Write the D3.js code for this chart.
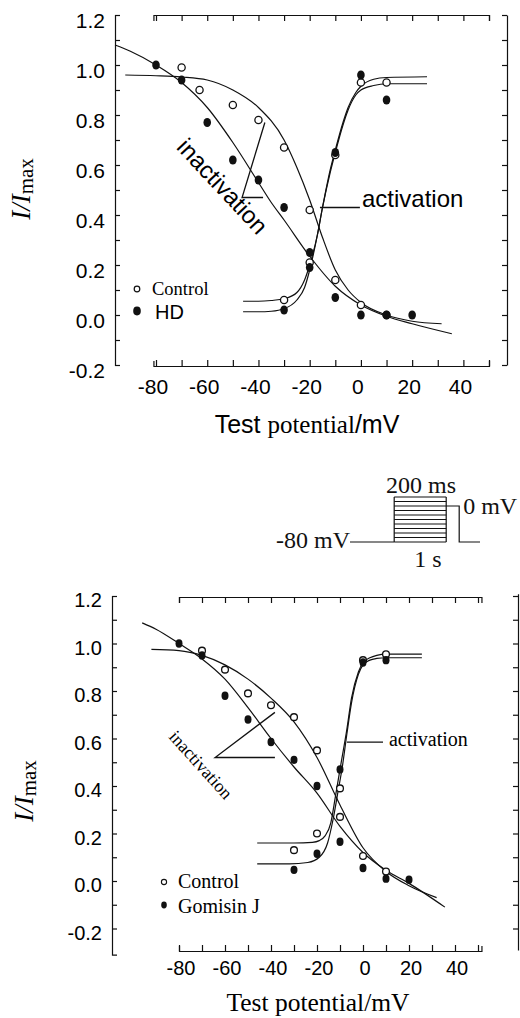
<!DOCTYPE html>
<html><head><meta charset="utf-8">
<script src="https://cdn.jsdelivr.net/npm/d3@7"></script>
<style>body{margin:0;background:#fff}svg{display:block}</style>
</head><body>
<svg id="c" width="520" height="1018"></svg>
<script>
// ---------------- DATA ----------------
const xTickValues = [-80,-70,-60,-50,-40,-30,-20,-10,0,10,20,30,40,50];
const xTickLabels = [-80,-60,-40,-20,0,20,40];
const yTickValues = [-0.2,-0.1,0,0.1,0.2,0.3,0.4,0.5,0.6,0.7,0.8,0.9,1.0,1.1,1.2];
const yTickLabels = [-0.2,0,0.2,0.4,0.6,0.8,1.0,1.2];

// top panel: Control vs HD
const topCtrlInactV = [-70,-63,-50,-40,-30,-20,-10,0,10];
const topCtrlInact  = [0.99,0.90,0.84,0.78,0.67,0.42,0.14,0.04,0.0];
const hdInactV = [-80,-70,-60,-50,-40,-30,-20,-10,0,10,20];
const hdInact  = [1.0,0.94,0.77,0.62,0.54,0.43,0.25,0.07,0.0,0.0,0.0];
const topActV = [-30,-20,-10,0,10];
const topCtrlAct = [0.06,0.21,0.64,0.93,0.93];
const hdAct      = [0.02,0.19,0.65,0.96,0.86];

// fitted curves (top)
const topCtrlInactFitV = [-92,-80,-70,-60,-50,-40,-30,-25,-20,-15,-10,-5,0,10,20,31.5];
const topCtrlInactFit  = [0.96,0.957,0.952,0.94,0.90,0.83,0.70,0.59,0.46,0.31,0.18,0.10,0.05,0.0,-0.025,-0.035];
const hdInactFitV = [-96,-90,-80,-70,-60,-50,-40,-35,-30,-20,-10,0,10,20,35.5];
const hdInactFit  = [1.08,1.055,1.0,0.93,0.83,0.69,0.53,0.45,0.38,0.235,0.115,0.04,-0.005,-0.035,-0.075];
const topActFitV = [-46,-40,-35,-30,-25,-22,-20,-17,-15,-12,-10,-7,-5,-2,0,5,10,25.8];
const topCtrlActFit = [0.055,0.055,0.058,0.065,0.09,0.14,0.2,0.32,0.43,0.57,0.65,0.76,0.82,0.88,0.9,0.918,0.925,0.925];
const hdActFit      = [0.013,0.013,0.015,0.025,0.06,0.11,0.18,0.32,0.43,0.58,0.66,0.77,0.83,0.89,0.915,0.943,0.95,0.953];

// bottom panel: Control vs Gomisin J
const botCtrlInactV = [-70,-60,-50,-40,-30,-20,-10,0,10];
const botCtrlInact  = [0.97,0.89,0.79,0.74,0.69,0.55,0.27,0.105,0.04];
const gomInactV = [-80,-70,-60,-50,-40,-30,-20,-10,0,10,20];
const gomInact  = [1.0,0.95,0.78,0.68,0.585,0.51,0.40,0.165,0.055,0.01,0.005];
const botActV = [-30,-20,-10,0,10];
const botCtrlAct = [0.13,0.20,0.39,0.93,0.955];
const gomAct     = [0.047,0.115,0.47,0.92,0.93];

const botCtrlInactFitV = [-92,-80,-70,-60,-50,-40,-30,-20,-10,0,10,20,32];
const botCtrlInactFit  = [0.975,0.97,0.95,0.91,0.85,0.77,0.67,0.52,0.32,0.14,0.04,-0.02,-0.07];
const gomInactFitV = [-96,-90,-80,-70,-60,-50,-40,-30,-20,-10,0,10,20,35.6];
const gomInactFit  = [1.087,1.06,1.0,0.935,0.85,0.73,0.60,0.48,0.37,0.23,0.12,0.045,-0.01,-0.11];
const botCtrlActFitV = [-46,-40,-30,-22,-19,-16.5,-14,-12,-10,-7,-5,-2,0,3,6,10,25.6];
const botCtrlActFit  = [0.16,0.16,0.16,0.163,0.17,0.19,0.245,0.355,0.47,0.64,0.77,0.88,0.92,0.94,0.95,0.955,0.955];
const gomActFitV = [-46,-40,-32,-24,-19,-15.4,-13,-10.8,-9,-7,-5,-2,0,3,6,10,25.6];
const gomActFit  = [0.072,0.072,0.072,0.078,0.10,0.16,0.26,0.38,0.48,0.62,0.75,0.87,0.91,0.93,0.937,0.94,0.94];

// pointer annotations (data units)
const topInactPointer = [[-37.5,0.77],[-46.4,0.47],[-38.2,0.47]];
const topActPointer = [[-16,0.43],[-0.4,0.43]];
const botInactPointer = [[-38.3,0.71],[-64.3,0.52],[-38.3,0.52]];
const botActPointer = [[-7,0.585],[8.7,0.585]];

// protocol inset
const prepulseLevels = [-80,-70,-60,-50,-40,-30,-20,-10,0,10,20];
const protoTimes = [-850,0,1000,1250,1650];

// ---------------- DRAW ----------------
const SANS = "'Liberation Sans', Arial, sans-serif";
const SERIF = "'Liberation Serif', 'Times New Roman', serif";
const svg = d3.select("#c");
svg.append("rect").attr("width",520).attr("height",1018).attr("fill","#fff");
const zip = (a,b)=>a.map((v,i)=>[v,b[i]]);

function panel(o){
  const g = svg.append("g");
  const x=o.x, y=o.y;
  const sw = 1.2;
  const yl = y.copy().domain([o.leftMin, 1.2]).range([y(o.leftMin), y(1.2)]);
  g.append("g").attr("transform",`translate(${o.leftX},0)`)
    .call(d3.axisLeft(yl).tickValues(yTickValues).tickSizeInner(-5).tickSizeOuter(-5).tickFormat(""));
  const yr = y.copy().domain([o.rightMin, o.rightMax]).range([y(o.rightMin), y(o.rightMax)]);
  g.append("g").attr("transform",`translate(${o.rightX},0)`)
    .call(d3.axisRight(yr).tickValues(yTickValues).tickSizeInner(-5).tickSizeOuter(0).tickFormat(""));
  const xb = x.copy().domain([o.bMin, o.bMax]).range([x(o.bMin), x(o.bMax)]);
  g.append("g").attr("transform",`translate(0,${o.bottomY})`)
    .call(d3.axisBottom(xb).tickValues(xTickValues).tickSizeInner(-6).tickSizeOuter(-5).tickFormat(""));
  g.append("g").attr("transform",`translate(0,${o.topY})`)
    .call(d3.axisTop(xb).tickValues(xTickValues).tickSizeInner(-6).tickSizeOuter(-6).tickFormat(""));
  g.selectAll(".domain, .tick line").attr("stroke","#111").attr("stroke-width",sw);

  g.selectAll(".xl").data(xTickLabels).enter().append("text")
    .attr("x",d=>x(d)+o.xlDx).attr("y",o.xlY).attr("text-anchor","middle")
    .attr("font-family",SANS).attr("font-size",o.tickFs).text(d=>d);
  g.selectAll(".yl").data(yTickLabels).enter().append("text")
    .attr("x",o.leftX-10).attr("y",d=>y(d)+o.ylDy).attr("text-anchor","end")
    .attr("font-family",SANS).attr("font-size",o.tickFs).text(d=>d.toFixed(1));

  const line = d3.line().x(d=>x(d[0])).y(d=>y(d[1])).curve(d3.curveMonotoneX);
  o.curves.forEach(c=>{
    g.append("path").attr("d",line(zip(c[0],c[1]))).attr("fill","none")
      .attr("stroke","#111").attr("stroke-width",1.2);
  });
  const pl = d3.line().x(d=>x(d[0])).y(d=>y(d[1]));
  o.pointers.forEach(p=>{
    g.append("path").attr("d",pl(p)).attr("fill","none").attr("stroke","#111").attr("stroke-width",1.3);
  });
  o.open.forEach(s=>{
    g.selectAll(null).data(zip(s[0],s[1])).enter().append("circle")
      .attr("cx",d=>x(d[0])).attr("cy",d=>y(d[1])).attr("r",o.rOpen)
      .attr("fill","#fff").attr("stroke","#111").attr("stroke-width",1.3);
  });
  o.filled.forEach(s=>{
    g.selectAll(null).data(zip(s[0],s[1])).enter().append("ellipse")
      .attr("cx",d=>x(d[0])).attr("cy",d=>y(d[1])).attr("rx",o.rFill).attr("ry",o.rFill+0.7)
      .attr("fill","#111");
  });
  return g;
}

// ---- top panel ----
const xT = d3.scaleLinear().domain([-80,50]).range([156,489]);
const yT = d3.scaleLinear().domain([-0.2,1.2]).range([365,15]);
const gT = panel({x:xT,y:yT,leftX:115,leftMin:-0.2,rightX:507,rightMin:-0.2,rightMax:1.2,
  bMin:-81,bMax:50,bottomY:366,topY:15,xlDx:-3,xlY:394,ylDy:13,tickFs:21,
  curves:[[topCtrlInactFitV,topCtrlInactFit],[hdInactFitV,hdInactFit],[topActFitV,topCtrlActFit],[topActFitV,hdActFit]],
  pointers:[topInactPointer,topActPointer],
  open:[[topCtrlInactV,topCtrlInact],[topActV,topCtrlAct]],
  filled:[[hdInactV,hdInact],[topActV,hdAct]], rOpen:3.6, rFill:3.8});

gT.append("text").attr("transform",`translate(${xT(-54)},${yT(0.515)}) rotate(47)`)
  .attr("text-anchor","middle").attr("dy","0.35em").attr("font-family",SANS).attr("font-size",24).text("inactivation");
gT.append("text").attr("x",xT(0.4)).attr("y",yT(0.432)).attr("font-family",SANS).attr("font-size",24).text("activation");
// legend
gT.append("circle").attr("cx",137).attr("cy",289).attr("r",2.8).attr("fill","#fff").attr("stroke","#111").attr("stroke-width",1.2);
gT.append("text").attr("x",152).attr("y",295).attr("font-family",SERIF).attr("font-size",18.5).text("Control");
gT.append("ellipse").attr("cx",137).attr("cy",311).attr("rx",3.8).attr("ry",4.4).attr("fill","#111");
gT.append("text").attr("x",155).attr("y",319).attr("font-family",SANS).attr("font-size",20).text("HD");
// axis titles
const tt = gT.append("text").attr("x",307).attr("y",433).attr("text-anchor","middle").attr("font-size",25);
tt.append("tspan").attr("font-family",SANS).text("Test ");
tt.append("tspan").attr("font-family",SERIF).text("potential");
tt.append("tspan").attr("font-family",SANS).text("/mV");
const yt = gT.append("text").attr("transform","translate(30,189) rotate(-90)").attr("text-anchor","middle").attr("font-family",SERIF).attr("font-size",27);
yt.append("tspan").attr("font-style","italic").text("I/I");
yt.append("tspan").attr("font-size",21).attr("dy",3).text("max");

// ---- bottom panel ----
const xB = d3.scaleLinear().domain([-80,40]).range([179,455]);
const yB = d3.scaleLinear().domain([0,1.2]).range([881,596]);
const gB = panel({x:xB,y:yB,leftX:112,leftMin:-0.31,rightX:518,rightMin:-0.29,rightMax:1.21,
  bMin:-80,bMax:51.5,bottomY:951,topY:597,xlDx:2,xlY:975,ylDy:11,tickFs:20,
  curves:[[botCtrlInactFitV,botCtrlInactFit],[gomInactFitV,gomInactFit],[botCtrlActFitV,botCtrlActFit],[gomActFitV,gomActFit]],
  pointers:[botInactPointer,botActPointer],
  open:[[botCtrlInactV,botCtrlInact],[botActV,botCtrlAct]],
  filled:[[gomInactV,gomInact],[botActV,gomAct]], rOpen:3.4, rFill:3.5});

gB.append("text").attr("transform",`translate(${xB(-70.4)},${yB(0.49)}) rotate(48)`)
  .attr("text-anchor","middle").attr("dy","0.35em").attr("font-family",SERIF).attr("font-size",18).text("inactivation");
gB.append("text").attr("x",xB(11.3)).attr("y",yB(0.568)).attr("font-family",SERIF).attr("font-size",20).text("activation");
gB.append("circle").attr("cx",164).attr("cy",882).attr("r",2.6).attr("fill","#fff").attr("stroke","#111").attr("stroke-width",1.1);
gB.append("text").attr("x",178).attr("y",888).attr("font-family",SERIF).attr("font-size",20).text("Control");
gB.append("ellipse").attr("cx",164).attr("cy",905).attr("rx",2.8).attr("ry",3.4).attr("fill","#111");
gB.append("text").attr("x",178).attr("y",913).attr("font-family",SERIF).attr("font-size",20).text("Gomisin J");
gB.append("text").attr("x",318).attr("y",1011).attr("text-anchor","middle").attr("font-family",SERIF).attr("font-size",25.5).text("Test potential/mV");
const yb = gB.append("text").attr("transform","translate(33,791) rotate(-90)").attr("text-anchor","middle").attr("font-family",SERIF).attr("font-size",27);
yb.append("tspan").attr("font-style","italic").text("I/I");
yb.append("tspan").attr("font-size",21).attr("dy",3).text("max");

// ---- protocol inset ----
const tS = d3.scaleLinear().domain([-850,1650]).range([350,480]);
const vS = d3.scaleLinear().domain([-80,0]).range([542,506]);
const gP = svg.append("g").attr("stroke","#111").attr("stroke-width",1.2).attr("fill","none");
const [tH,t0,t1,t2,tE] = protoTimes;
gP.append("path").attr("d",d3.line()([[tS(tH),vS(-80)],[tS(t0),vS(-80)]]));
gP.selectAll(null).data(prepulseLevels).enter().append("line")
  .attr("x1",tS(t0)).attr("x2",tS(t1)).attr("y1",d=>vS(d)).attr("y2",d=>vS(d));
gP.append("path").attr("d",d3.line()([[tS(t0),vS(-80)],[tS(t0),vS(20)]]));
gP.append("path").attr("d",d3.line()([[tS(t1),vS(-80)],[tS(t1),vS(20)]]));
gP.append("path").attr("d",d3.line()([[tS(t1),vS(0)],[tS(t2),vS(0)],[tS(t2),vS(-80)],[tS(tE),vS(-80)]]));
const tp = svg.append("g").attr("font-family",SERIF).attr("font-size",24).attr("fill","#111");
tp.append("text").attr("x",tS(tH)).attr("y",548).attr("text-anchor","end").text("-80 mV");
tp.append("text").attr("x",tS(t2)+4).attr("y",514).text("0 mV");
tp.append("text").attr("x",421).attr("y",493).attr("text-anchor","middle").text("200 ms");
tp.append("text").attr("x",428).attr("y",567).attr("text-anchor","middle").text("1 s");
</script>
</body></html>
